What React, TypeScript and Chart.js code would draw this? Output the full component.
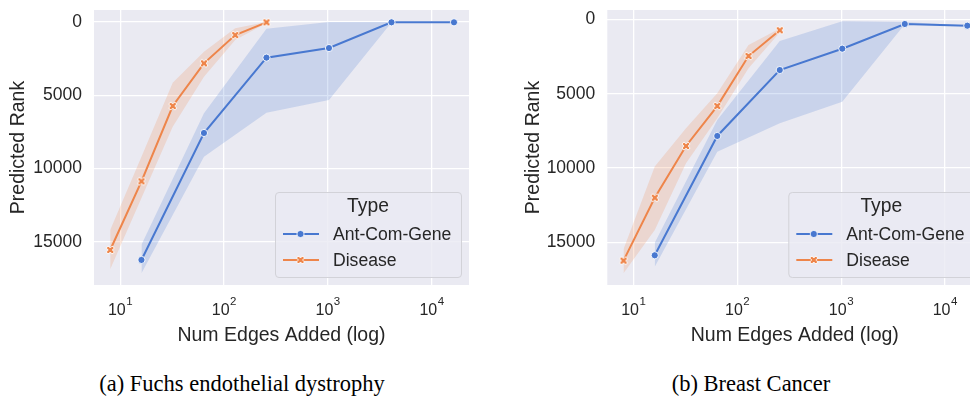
import React, { useEffect, useRef } from 'react';
import { Chart, registerables } from 'chart.js';

Chart.register(...registerables);

// ---------------- data ----------------
const xDisease = [8, 16, 32, 64, 128, 256];
const xGene = [16, 64, 256, 1024, 4096, 16384];
const seriesNames = ['Ant-Com-Gene', 'Disease'];
const legendTitle = 'Type';
const xTickExponents = [1, 2, 3, 4];
const yTickValues = [0, 5000, 10000, 15000];
const xAxisTitle = 'Num Edges Added (log)';
const yAxisTitle = 'Predicted Rank';
const captions = ['(a) Fuchs endothelial dystrophy', '(b) Breast Cancer'];

// (a) Fuchs endothelial dystrophy
const fuchsGene = [16230, 7570, 2430, 1775, 20, 20];
const fuchsGeneLo = [15200, 6230, 455, 0, 0, 0];
const fuchsGeneHi = [17140, 9190, 6185, 5320, 40, 40];
const fuchsDisease = [15550, 10870, 5730, 2820, 890, 20];
const fuchsDiseaseLo = [14190, 9190, 4140, 2030, 430, 0];
const fuchsDiseaseHi = [16870, 12000, 7140, 3730, 1230, 60];

// (b) Breast Cancer
const breastGene = [15860, 7840, 3410, 1975, 316, 430];
const breastGeneLo = [15010, 6770, 1460, 135, 180, 420];
const breastGeneHi = [16625, 8900, 6990, 5540, 330, 440];
const breastDisease = [16220, 11990, 8515, 5830, 2470, 740];
const breastDiseaseLo = [15460, 9900, 7330, 4975, 1730, 610];
const breastDiseaseHi = [17070, 14160, 9680, 6650, 3290, 880];

// ---------------- style ----------------
const BLUE = '#4878d0';
const ORANGE = '#ee854a';
const BLUE_BAND = 'rgba(72,120,208,0.2)';
const ORANGE_BAND = 'rgba(238,133,74,0.2)';
const BG = '#eaeaf2';
const TEXT = '#262626';
const SANS = '"Liberation Sans", Arial, sans-serif';

Chart.defaults.font.family = SANS;

function makeXMarker(color: string): HTMLCanvasElement {
  const c = document.createElement('canvas');
  c.width = 12;
  c.height = 12;
  const ctx = c.getContext('2d')!;
  ctx.translate(6, 6);
  ctx.rotate(Math.PI / 4);
  const s = 4.3;
  const w = 1.5;
  const pts = [
    [-w, -s], [w, -s], [w, -w], [s, -w], [s, w], [w, w],
    [w, s], [-w, s], [-w, w], [-s, w], [-s, -w], [-w, -w],
  ];
  ctx.beginPath();
  pts.forEach(([px, py], i) => (i ? ctx.lineTo(px, py) : ctx.moveTo(px, py)));
  ctx.closePath();
  ctx.fillStyle = color;
  ctx.fill();
  ctx.lineWidth = 0.9;
  ctx.strokeStyle = '#ffffff';
  ctx.stroke();
  return c;
}

const pts = (xs: number[], ys: number[]) => xs.map((x, i) => ({ x, y: ys[i] }));

type PanelProps = {
  left: number;
  width: number;
  height: number;
  yAxisWidth: number;
  padRight: number;
  yMin: number;
  yMax: number;
  gene: number[];
  geneLo: number[];
  geneHi: number[];
  dis: number[];
  disLo: number[];
  disHi: number[];
};

function Panel(p: PanelProps) {
  const ref = useRef<HTMLCanvasElement | null>(null);

  useEffect(() => {
    const canvas = ref.current;
    if (!canvas) return;
    const xImg = makeXMarker(ORANGE);

    const panelPlugin = {
      id: 'panelPlugin',
      beforeDraw(chart: any) {
        const { ctx, chartArea: ca } = chart;
        ctx.save();
        ctx.fillStyle = BG;
        ctx.fillRect(ca.left, ca.top, ca.right - ca.left, ca.bottom - ca.top);
        ctx.restore();
      },
      afterDraw(chart: any) {
        const { ctx, chartArea: ca } = chart;
        const xs = chart.scales.x;
        ctx.save();
        // x tick labels 10^k
        ctx.fillStyle = TEXT;
        ctx.textBaseline = 'alphabetic';
        ctx.textAlign = 'left';
        xTickExponents.forEach((e) => {
          const px = xs.getPixelForValue(Math.pow(10, e));
          ctx.font = `16px ${SANS}`;
          const w1 = ctx.measureText('10').width;
          ctx.font = `11.5px ${SANS}`;
          const w2 = ctx.measureText(String(e)).width;
          const start = px - (w1 + w2 + 0.5) / 2;
          ctx.font = `16px ${SANS}`;
          ctx.fillText('10', start, ca.bottom + 29.8);
          ctx.font = `11.5px ${SANS}`;
          ctx.fillText(String(e), start + w1 + 0.5, ca.bottom + 20);
        });

        // legend
        const bw = 186;
        const bh = 85;
        const bx = ca.right - 8 - bw;
        const by = ca.bottom - 8 - bh;
        ctx.beginPath();
        (ctx as any).roundRect(bx + 0.5, by + 0.5, bw, bh, 3.5);
        ctx.fillStyle = 'rgba(234,234,242,0.8)';
        ctx.fill();
        ctx.strokeStyle = '#d2d2d8';
        ctx.lineWidth = 1;
        ctx.stroke();

        ctx.fillStyle = TEXT;
        ctx.textAlign = 'center';
        ctx.font = `19.3px ${SANS}`;
        ctx.fillText(legendTitle, bx + bw / 2, by + 20);

        const entries = [
          { name: seriesNames[0], color: BLUE, marker: 'circle' },
          { name: seriesNames[1], color: ORANGE, marker: 'x' },
        ];
        entries.forEach((en, i) => {
          const y = by + 42 + i * 26;
          ctx.beginPath();
          ctx.moveTo(bx + 8, y);
          ctx.lineTo(bx + 44, y);
          ctx.strokeStyle = en.color;
          ctx.lineWidth = 2;
          ctx.stroke();
          const mx = bx + 25.5;
          if (en.marker === 'circle') {
            ctx.beginPath();
            ctx.arc(mx, y, 3.6, 0, Math.PI * 2);
            ctx.fillStyle = en.color;
            ctx.fill();
            ctx.strokeStyle = '#fff';
            ctx.lineWidth = 0.8;
            ctx.stroke();
          } else {
            ctx.drawImage(xImg, mx - 6, y - 6);
          }
          ctx.fillStyle = TEXT;
          ctx.textAlign = 'left';
          ctx.font = `17.6px ${SANS}`;
          ctx.fillText(en.name, bx + 58, y + 6.3);
        });
        ctx.restore();
      },
    };

    const chart = new Chart(canvas, {
      type: 'line',
      data: {
        datasets: [
          {
            data: pts(xGene, p.geneLo),
            borderColor: 'transparent',
            borderWidth: 0,
            pointRadius: 0,
            fill: false,
            order: 3,
          },
          {
            data: pts(xGene, p.geneHi),
            borderColor: 'transparent',
            borderWidth: 0,
            pointRadius: 0,
            fill: '-1',
            backgroundColor: BLUE_BAND,
            order: 3,
          },
          {
            data: pts(xDisease, p.disLo),
            borderColor: 'transparent',
            borderWidth: 0,
            pointRadius: 0,
            fill: false,
            order: 2,
          },
          {
            data: pts(xDisease, p.disHi),
            borderColor: 'transparent',
            borderWidth: 0,
            pointRadius: 0,
            fill: '-1',
            backgroundColor: ORANGE_BAND,
            order: 2,
          },
          {
            label: seriesNames[0],
            data: pts(xGene, p.gene),
            borderColor: BLUE,
            borderWidth: 2,
            pointStyle: 'circle',
            pointRadius: 3.6,
            pointBackgroundColor: BLUE,
            pointBorderColor: '#ffffff',
            pointBorderWidth: 0.9,
            fill: false,
            order: 1,
          },
          {
            label: seriesNames[1],
            data: pts(xDisease, p.dis),
            borderColor: ORANGE,
            borderWidth: 2,
            pointStyle: xImg as any,
            pointRadius: 5,
            fill: false,
            order: 0,
          },
        ] as any,
      },
      options: {
        responsive: false,
        maintainAspectRatio: false,
        animation: false,
        devicePixelRatio: 1,
        elements: { line: { tension: 0 } },
        layout: { padding: { top: 10, right: p.padRight, bottom: 0, left: 0 } },
        plugins: {
          legend: { display: false },
          tooltip: { enabled: false },
        },
        scales: {
          x: {
            type: 'logarithmic',
            min: Math.pow(10, 0.747),
            max: Math.pow(10, 4.359),
            afterBuildTicks: (s: any) => {
              s.ticks = xTickExponents.map((e) => ({ value: Math.pow(10, e) }));
            },
            afterFit: (s: any) => {
              s.height = 65;
              s.paddingLeft = 0;
              s.paddingRight = 0;
            },
            ticks: { display: false },
            grid: { color: '#ffffff', lineWidth: 1.3, drawTicks: false },
            border: { display: false },
            title: {
              display: true,
              text: xAxisTitle,
              color: TEXT,
              font: { size: 19.5, family: SANS },
              padding: { top: 0, bottom: 2.5 },
            },
          },
          y: {
            type: 'linear',
            reverse: true,
            min: p.yMin,
            max: p.yMax,
            afterBuildTicks: (s: any) => {
              s.ticks = yTickValues.map((v) => ({ value: v }));
            },
            afterFit: (s: any) => {
              s.width = p.yAxisWidth;
              s.paddingTop = 0;
              s.paddingBottom = 0;
            },
            ticks: {
              padding: 12,
              color: TEXT,
              font: { size: 17.5, family: SANS },
              callback: (v: any) => String(v),
            },
            grid: { color: '#ffffff', lineWidth: 1.3, drawTicks: false },
            border: { display: false },
            title: {
              display: true,
              text: yAxisTitle,
              color: TEXT,
              font: { size: 19.5, family: SANS },
              padding: { top: 6.5, bottom: 0 },
            },
          },
        },
      } as any,
      plugins: [panelPlugin],
    });
    return () => chart.destroy();
  }, []);

  return (
    <canvas
      ref={ref}
      width={p.width}
      height={p.height}
      style={{ position: 'absolute', left: p.left, top: 0, width: p.width, height: p.height }}
    />
  );
}

const captionStyle = (center: number): React.CSSProperties => ({
  position: 'absolute',
  left: center - 250,
  width: 500,
  top: 371,
  textAlign: 'center',
  fontFamily: '"Liberation Serif", "Times New Roman", serif',
  fontSize: 22.5,
  lineHeight: '26px',
  color: '#000',
  whiteSpace: 'nowrap',
});

export default function App() {
  return (
    <div
      style={{
        position: 'fixed',
        left: 0,
        top: 0,
        width: 970,
        height: 402,
        overflow: 'hidden',
        background: '#ffffff',
      }}
    >
      <Panel
        left={0}
        width={480}
        height={350}
        yAxisWidth={94}
        padRight={11}
        yMin={-820}
        yMax={17940}
        gene={fuchsGene}
        geneLo={fuchsGeneLo}
        geneHi={fuchsGeneHi}
        dis={fuchsDisease}
        disLo={fuchsDiseaseLo}
        disHi={fuchsDiseaseHi}
      />
      <Panel
        left={515}
        width={475}
        height={350}
        yAxisWidth={92.3}
        padRight={7.7}
        yMin={-625}
        yMax={17856}
        gene={breastGene}
        geneLo={breastGeneLo}
        geneHi={breastGeneHi}
        dis={breastDisease}
        disLo={breastDiseaseLo}
        disHi={breastDiseaseHi}
      />
      <div style={captionStyle(242)}>{captions[0]}</div>
      <div style={captionStyle(751)}>{captions[1]}</div>
    </div>
  );
}
